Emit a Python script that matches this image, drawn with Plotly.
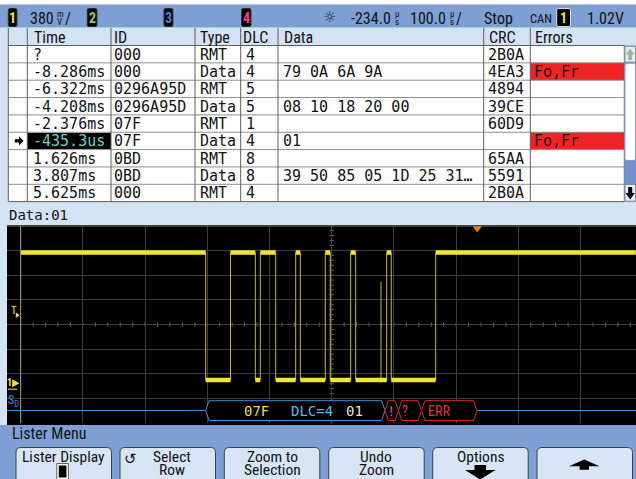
import plotly.graph_objects as go

col_headers = ["Time", "ID", "Type", "DLC", "Data", "CRC", "Errors"]
row_time = ["?", "-8.286ms", "-6.322ms", "-4.208ms", "-2.376ms",
            "-435.3us", "1.626ms", "3.807ms", "5.625ms"]
row_id = ["000", "000", "0296A95D", "0296A95D", "07F", "07F", "0BD", "0BD", "000"]
row_type = ["RMT", "Data", "RMT", "Data", "RMT", "Data", "RMT", "Data", "RMT"]
row_dlc = ["4", "4", "5", "5", "1", "4", "8", "8", "4"]
row_data = ["", "79 0A 6A 9A", "", "08 10 18 20 00", "", "01", "",
            "39 50 85 05 1D 25 31…", ""]
row_crc = ["2B0A", "4EA3", "4894", "39CE", "60D9", "", "65AA", "5591", "2B0A"]
row_errors = ["", "Fo,Fr", "", "", "", "Fo,Fr", "", "", ""]
selected_row = 5
selected_data = "01"

# CAN waveform on channel 1: edge times (us), levels (V)
edge_times_us = [-436.6, -396.7, -356.8, -348.8, -324.0, -291.9, -284.5,
                 -244.3, -236.3, -203.5, -195.4, -145.6, -138.2, -66.8]
recessive_v = 1.96
dominant_v = 0.0
glitch_time_us = -154.7
glitch_peak_v = 1.51
trace_start_us = -734.0
trace_end_us = 255.0

# serial decode bus
bus_start_us = [-436.6, -148.3, -126.6, -89.6]
bus_end_us = [-148.3, -126.6, -89.6, -0.4]
bus_kind = ["frame", "error", "error", "error"]
bus_labels = ["07F", "DLC=4", "01", "!", "?", "ERR"]
bus_label_us = [-354.9, -266.0, -197.7, -138.7, -115.8, -61.0]
bus_label_kind = ["id", "dlc", "data", "warn", "error", "error"]

# status line
ch1_scale = "380"
ch1_unit = ("m", "V")
delay_value = "-234.0"
timebase_value = "100.0"
time_unit = ("µ", "s")
run_state = "Stop"
trigger_type = "CAN"
trigger_channel = "1"
trigger_level = "1.02V"

lister_title = "Lister Menu"
softkey_top = ["Lister Display", "Select", "Zoom to", "Undo", "Options", ""]
softkey_bottom = ["", "Row", "Selection", "Zoom", "", ""]

# ================= styling / layout =================
W, H = 636, 479
SANS = "Roboto Condensed, Liberation Sans Narrow, Liberation Sans, sans-serif"
MONO = "DejaVu Sans Mono, Liberation Mono, monospace"
BAR_BLUE = "#7d9fd3"
LIGHT = "#d4e3f4"
ROWLINE = "#8e8e8e"
COLLINE = "#5e5e5e"
TEXT = "#121212"

SCOPE_LEFT_PX, SCOPE_RIGHT_PX = 7.0, 636.0
GRID_TOP_PX, GRID_BOT_PX = 225.7, 423.3
DIV_X_PX, CENTER_X_PX, US_PER_DIV = 62.2, 331.7, 100.0
DIV_Y_PX, GROUND_PX = 24.7, 380.0
center_time = float(delay_value)
v_per_div = float(ch1_scale) / 1000.0


def t_at(px):
    return center_time + (px - CENTER_X_PX) / DIV_X_PX * US_PER_DIV


def v_at(py):
    return (GROUND_PX - py) / DIV_Y_PX * v_per_div


shapes, annos = [], []


def rect(x0, y0, x1, y1, fill=None, line=None, lw=1, layer="below", xref="x", yref="y"):
    shapes.append(dict(type="rect", x0=x0, y0=y0, x1=x1, y1=y1, xref=xref, yref=yref,
                       fillcolor=fill or "rgba(0,0,0,0)", layer=layer,
                       line=dict(color=line or "rgba(0,0,0,0)", width=lw if line else 0)))


def seg(x0, y0, x1, y1, color, w=1, layer="below", xref="x", yref="y"):
    shapes.append(dict(type="line", x0=x0, y0=y0, x1=x1, y1=y1, xref=xref, yref=yref,
                       line=dict(color=color, width=w), layer=layer))


def path(d, fill=None, line=None, lw=1, layer="below", xref="x", yref="y"):
    shapes.append(dict(type="path", path=d, xref=xref, yref=yref, layer=layer,
                       fillcolor=fill or "rgba(0,0,0,0)",
                       line=dict(color=line or "rgba(0,0,0,0)", width=lw if line else 0)))


def txt(x, y, s, size=16, color=TEXT, family=SANS, xanchor="left", xref="x", yref="y"):
    annos.append(dict(x=x, y=y, xref=xref, yref=yref, text=s, showarrow=False,
                      xanchor=xanchor, yanchor="middle", borderpad=0,
                      font=dict(family=family, size=size, color=color)))


def rbox(x0, y0, x1, y1, r):
    return (f"M {x0+r},{y0} L {x1-r},{y0} Q {x1},{y0} {x1},{y0+r} L {x1},{y1-r} "
            f"Q {x1},{y1} {x1-r},{y1} L {x0+r},{y1} Q {x0},{y1} {x0},{y1-r} "
            f"L {x0},{y0+r} Q {x0},{y0} {x0+r},{y0} Z")


# ---------------- status bar ----------------
rect(0, 0, W, 4.5, fill="#ffffff")
rect(0, 4.5, W, 28, fill=BAR_BLUE)
seg(0, 27.6, W, 27.6, "#a9d6cf", 1)
TOP_Y = 18


def chan_box(x0, x1, label, color, border=None):
    path(rbox(x0, 8.5, x1, 26.5, 1.5), fill="#000000", line=border or "#2a2a2a", lw=1)
    txt((x0 + x1) / 2, TOP_Y, f"<b>{label}</b>", 14, color, SANS, "center")


def stacked(x, top, bottom):
    txt(x, 13.5, top, 9, TEXT, SANS, "left")
    txt(x, 21.5, bottom, 9, TEXT, SANS, "left")


chan_box(8.3, 16.9, "1", "#f4e62c")
txt(54.5, TOP_Y, ch1_scale, 16, xanchor="right")
stacked(55.5, ch1_unit[0], ch1_unit[1])
txt(63.5, TOP_Y, "/", 16)
chan_box(87.3, 96.9, "2", "#8ed04a")
chan_box(164, 172.9, "3", "#4c86e0")
chan_box(241.7, 250.9, "4", "#ff3a96")
txt(329.5, 17, "☼", 15, "#202020", "DejaVu Sans", "center")
txt(392, TOP_Y, delay_value, 16, xanchor="right")
stacked(393.5, time_unit[0], time_unit[1])
txt(447, TOP_Y, timebase_value, 16, xanchor="right")
stacked(448.5, time_unit[0], time_unit[1])
txt(455, TOP_Y, "/", 16)
txt(482.7, TOP_Y, run_state, 16)
txt(529, TOP_Y, trigger_type, 12.5)
chan_box(556.7, 570.5, trigger_channel, "#f4e62c", border="#d8d8d8")
txt(624.5, TOP_Y, trigger_level, 16, xanchor="right")

# ---------------- lister table ----------------
col_edges = [8.3, 27.3, 111.0, 195.0, 240.7, 278.0, 483.7, 530.3, 624.3]
HEAD_TOP, ROW_TOP, ROW_H = 28.0, 45.5, 17.35
n_rows = len(row_time)
TABLE_BOT = ROW_TOP + ROW_H * n_rows

rect(col_edges[0], HEAD_TOP, W, ROW_TOP, fill=LIGHT)
rect(col_edges[0], ROW_TOP, col_edges[-1], TABLE_BOT, fill="#ffffff")

row_mid = [ROW_TOP + ROW_H * (i + 0.5) for i in range(n_rows)]
for i, e in enumerate(row_errors):
    if e:
        rect(col_edges[7], ROW_TOP + ROW_H * i, col_edges[8], ROW_TOP + ROW_H * (i + 1), fill="#ee2424")
rect(col_edges[1], ROW_TOP + ROW_H * selected_row + 0.5, col_edges[2],
     ROW_TOP + ROW_H * (selected_row + 1) - 0.5, fill="#000000")

for i in range(n_rows + 1):
    yy = ROW_TOP + ROW_H * i
    seg(col_edges[0], yy, col_edges[-1], yy, ROWLINE if 0 < i < n_rows else COLLINE, 1)
for xx in col_edges[:-1]:
    seg(xx, HEAD_TOP, xx, TABLE_BOT, COLLINE, 1)
seg(col_edges[-1], ROW_TOP, col_edges[-1], TABLE_BOT, COLLINE, 1)

head_dx = [6, 2.3, 4, 1.3, 5, 4, 4]
cell_dx = [5, 1.5, 4, 4.5, 3.5, 3, 3]
for c, h in enumerate(col_headers):
    txt(col_edges[c + 1] + head_dx[c], (HEAD_TOP + ROW_TOP) / 2 + 0.5, h, 16)

columns = [row_time, row_id, row_type, row_dlc, row_data, row_crc, row_errors]
for c, col in enumerate(columns):
    for i, val in enumerate(col):
        if not val:
            continue
        color = TEXT
        if c == 0 and i == selected_row:
            color = "#6ed0c0"
        if c == 6:
            color = "#2a0000"
        txt(col_edges[c + 1] + cell_dx[c], row_mid[i] + 0.5, val, 15, color, MONO)

ay = row_mid[selected_row]
path(f"M 14.8,{ay-1.6} L 19,{ay-1.6} L 19,{ay-4.6} L 23.6,{ay} L 19,{ay+4.6} "
     f"L 19,{ay+1.6} L 14.8,{ay+1.6} Z", fill="#000000")

# scrollbar
rect(624.3, ROW_TOP, W, TABLE_BOT, fill="#7091cb")
rect(625, 46.5, 635.5, 62, fill="#e6edf5", line="#8aa08a", lw=1)
path("M 630.2,48.5 L 634.6,54.5 L 632.1,54.5 L 632.1,60 L 628.3,60 L 628.3,54.5 "
     "L 625.8,54.5 Z", fill="#a9b0a0")
path(rbox(625, 63.3, 635.5, 160.5, 2), fill="#ffffff", line="#90a0c0", lw=1)
rect(625, 184.5, 635.5, 201.2, fill="#e6edf5", line="#8a8a8a", lw=1)
path("M 630.2,199.5 L 634.8,193 L 632.2,193 L 632.2,187 L 628.2,187 L 628.2,193 "
     "L 625.6,193 Z", fill="#000000")

txt(8.3, 215.3, f"Data:{selected_data}", 14, TEXT, MONO)

# ---------------- scope area ----------------
rect(SCOPE_LEFT_PX, GRID_TOP_PX - 0.5, W, 425.0, fill="#000000")
rect(0, 425.0, W, H, fill=BAR_BLUE)

x2_range = [t_at(SCOPE_LEFT_PX), t_at(SCOPE_RIGHT_PX)]
y2_range = [v_at(GRID_BOT_PX), v_at(GRID_TOP_PX)]
center_v = v_at(GRID_TOP_PX + 4 * DIV_Y_PX)

t_tick = trace_start_us
while t_tick <= x2_range[1]:
    shapes.append(dict(type="line", xref="x2", yref="y2", x0=t_tick, x1=t_tick,
                       y0=center_v - 0.032, y1=center_v + 0.032, layer="below",
                       line=dict(color="#707070", width=1)))
    t_tick += US_PER_DIV / 5
v_tick = y2_range[0]
while v_tick <= y2_range[1] + 1e-9:
    shapes.append(dict(type="line", xref="x2", yref="y2", x0=center_time - 3.4,
                       x1=center_time + 3.4, y0=v_tick, y1=v_tick, layer="below",
                       line=dict(color="#707070", width=1)))
    v_tick += v_per_div / 5

shapes.append(dict(type="line", xref="x2", yref="y2", x0=x2_range[0], x1=x2_range[1],
                   y0=y2_range[1], y1=y2_range[1], layer="above",
                   line=dict(color="#77735a", width=1.5)))
shapes.append(dict(type="line", xref="x2", yref="y2", x0=trace_start_us, x1=trace_start_us,
                   y0=y2_range[0], y1=y2_range[1], layer="above",
                   line=dict(color="#9c9c9c", width=1)))

mv = v_per_div / DIV_Y_PX
shapes.append(dict(type="path", xref="x2", yref="y2", layer="above",
                   path=f"M -7.5,{y2_range[1] - 0.5*mv} L 7.5,{y2_range[1] - 0.5*mv} "
                        f"L 0,{y2_range[1] - 6.5*mv} Z",
                   fillcolor="#f07c1c", line=dict(width=0)))

bounds = [trace_start_us] + edge_times_us + [trace_end_us]
thick_x, thick_y = [], []
for i in range(len(bounds) - 1):
    lvl = recessive_v if i % 2 == 0 else dominant_v
    thick_x += [bounds[i], bounds[i + 1], None]
    thick_y += [lvl, lvl, None]
thin_x, thin_y = [], []
for e in edge_times_us:
    thin_x += [e, e, None]
    thin_y += [dominant_v, recessive_v, None]
thin_x += [glitch_time_us, glitch_time_us, None]
thin_y += [dominant_v, glitch_peak_v, None]

fig = go.Figure()
fig.add_trace(go.Scatter(x=[None], y=[None], xaxis="x", yaxis="y", mode="lines",
                         showlegend=False, hoverinfo="skip"))
fig.add_trace(go.Scatter(x=thin_x, y=thin_y, xaxis="x2", yaxis="y2", mode="lines",
                         line=dict(color="#c2b83c", width=1), showlegend=False,
                         hoverinfo="skip"))
fig.add_trace(go.Scatter(x=thick_x, y=thick_y, xaxis="x2", yaxis="y2", mode="lines",
                         line=dict(color="#f2e62a", width=4.5), showlegend=False,
                         hoverinfo="skip"))

BUS_BLUE, BUS_RED = "#3d8fd8", "#d62828"
bus_mid, bus_top, bus_bot = v_at(410.5), v_at(400.7), v_at(420.5)
tip = 5.5
shapes.append(dict(type="line", xref="x2", yref="y2", x0=x2_range[0], x1=bus_start_us[0],
                   y0=bus_mid, y1=bus_mid, layer="above", line=dict(color=BUS_BLUE, width=1)))
shapes.append(dict(type="line", xref="x2", yref="y2", x0=bus_end_us[-1], x1=x2_range[1],
                   y0=bus_mid, y1=bus_mid, layer="above", line=dict(color=BUS_BLUE, width=1)))
for s0, s1, k in zip(bus_start_us, bus_end_us, bus_kind):
    col = BUS_BLUE if k == "frame" else BUS_RED
    d = (f"M {s0},{bus_mid} L {s0+tip},{bus_top} L {s1-tip},{bus_top} L {s1},{bus_mid} "
         f"L {s1-tip},{bus_bot} L {s0+tip},{bus_bot} Z")
    shapes.append(dict(type="path", xref="x2", yref="y2", path=d, layer="above",
                       fillcolor="#000000", line=dict(color=col, width=1)))
label_colors = {"id": "#e8dc48", "dlc": "#5ab8e8", "data": "#e8e2c8",
                "warn": "#e8409c", "error": "#e03434"}
for lab, tt, k in zip(bus_labels, bus_label_us, bus_label_kind):
    txt(tt, bus_mid, lab, 14, label_colors[k], MONO if k != "error" else SANS, "center",
        "x2", "y2")

txt(13.8, 310.2, "T", 11, "#f0e030", SANS, "center")
path("M 15.8,312.3 L 19.6,315.2 L 15.8,318.1 Z", fill="#f0e030")
txt(9.6, 382.3, "<b>1</b>", 10, "#f0e030", SANS, "center")
path("M 12.2,379.2 L 19.4,383.2 L 12.2,387.2 Z", fill="#f0e030")
seg(8, 389.3, 17, 389.3, "#b0a040", 1.5)
txt(7.2, 400.5, "S<sub>D</sub>", 12, "#3d8fd8", SANS, "left")

# ---------------- softkey menu ----------------
txt(10.5, 433.5, lister_title, 16)
btn_x0 = [16.0, 120.0, 224.3, 328.7, 432.7, 537.0]
BTN_W, BTN_TOP = 95.5, 447.5
for i, x0 in enumerate(btn_x0):
    path(rbox(x0, BTN_TOP, x0 + BTN_W, 492, 5), fill="#d8e5f5", line="#3e3e46", lw=1)
    cx = x0 + BTN_W / 2
    if i == 1:
        cx += 4
    if softkey_top[i]:
        txt(cx, 456.8, softkey_top[i], 15.5, TEXT, SANS, "center")
    if softkey_bottom[i]:
        txt(cx, 470.3, softkey_bottom[i], 15.5, TEXT, SANS, "center")

rect(56.8, 463.5, 68.4, 479.5, fill="#ffffff", line="#606060", lw=1)
rect(58.8, 465.5, 66.4, 477.5, fill="#000000")
txt(130.3, 458.5, "↺", 15, TEXT, "DejaVu Sans", "center")
path("M 474.5,465 L 486,465 L 486,470 L 495.5,470 L 480.2,479.5 L 465,470 "
     "L 474.5,470 Z", fill="#000000")
path("M 584.3,459.5 L 599.5,466.3 L 589,466.3 L 589,469.8 L 579.6,469.8 "
     "L 579.6,466.3 L 569,466.3 Z", fill="#000000")

fig.update_layout(
    width=W, height=H, autosize=False,
    margin=dict(l=0, r=0, t=0, b=0, pad=0),
    paper_bgcolor=LIGHT, plot_bgcolor="rgba(0,0,0,0)",
    showlegend=False,
    xaxis=dict(range=[0, W], domain=[0, 1], visible=False, fixedrange=True),
    yaxis=dict(range=[H, 0], domain=[0, 1], visible=False, fixedrange=True),
    xaxis2=dict(range=x2_range, domain=[SCOPE_LEFT_PX / W, 1], anchor="y2",
                showgrid=True, gridcolor="#3d3d3d", gridwidth=1, tick0=center_time,
                dtick=US_PER_DIV, zeroline=False, showticklabels=False, ticks="",
                showline=False, fixedrange=True),
    yaxis2=dict(range=y2_range, domain=[1 - GRID_BOT_PX / H, 1 - GRID_TOP_PX / H],
                anchor="x2", showgrid=True, gridcolor="#3d3d3d", gridwidth=1,
                tick0=center_v, dtick=v_per_div, zeroline=False, showticklabels=False,
                ticks="", showline=False, fixedrange=True),
    shapes=shapes, annotations=annos,
)
fig.write_html("out.html", config={"displayModeBar": False},
               post_script="document.body.style.margin='0';document.body.style.padding='0';"
                           "document.body.style.overflow='hidden';")
